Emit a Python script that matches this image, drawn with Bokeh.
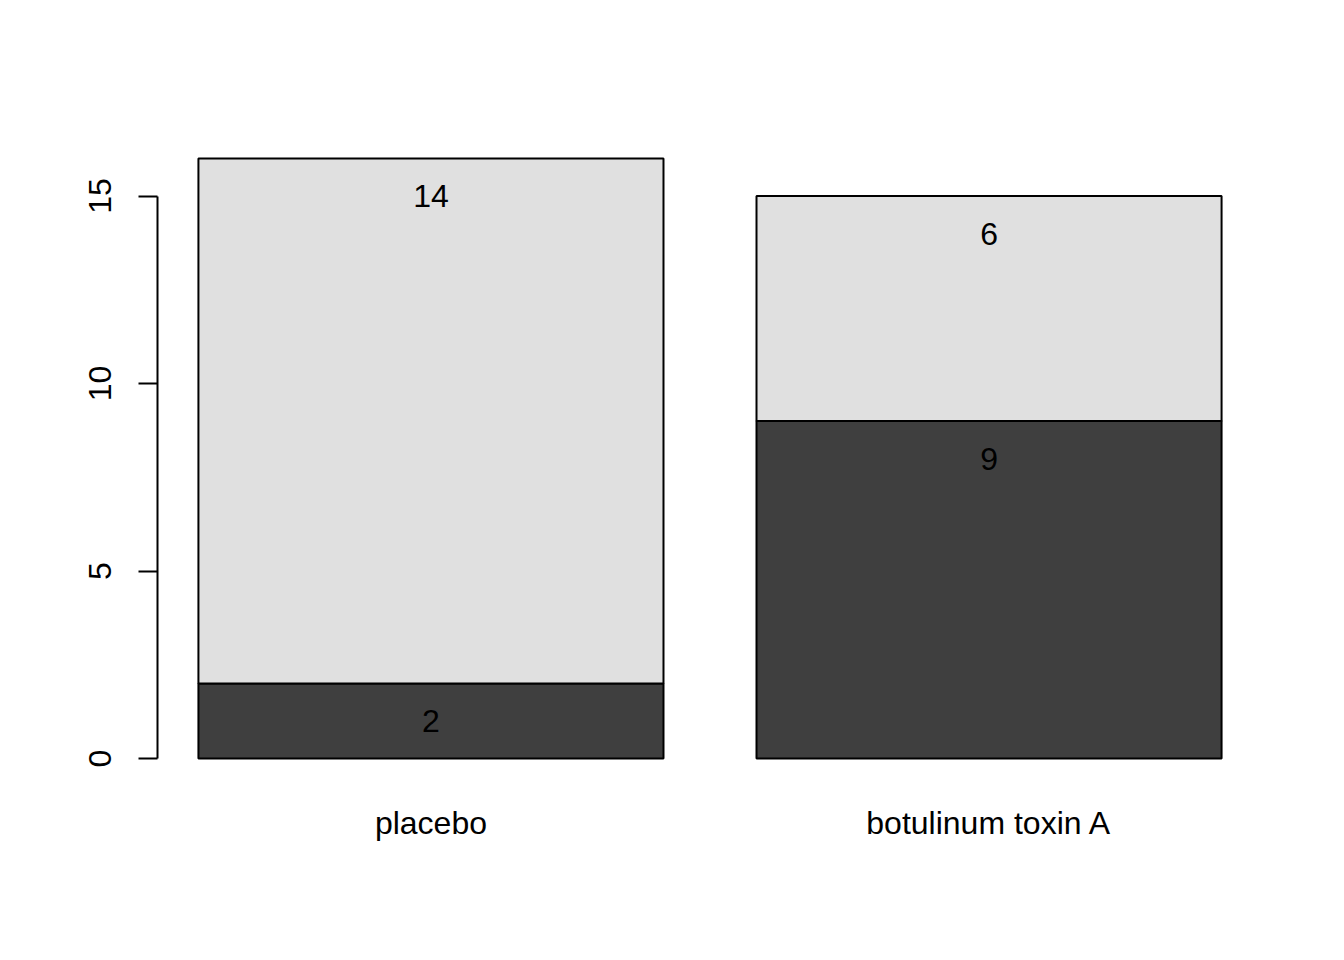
import math
from bokeh.plotting import figure
from bokeh.models import Range1d, FixedTicker, ColumnDataSource, LinearAxis
from bokeh.embed import file_html
from bokeh.resources import INLINE
from bokeh.core.properties import value

# ---- data ----
categories = ["placebo", "botulinum toxin A"]
lower_counts = [2, 9]      # dark segment
upper_counts = [14, 6]     # light segment
y_ticks = [0, 5, 10, 15]

dark_color = "#3F3F3F"
light_color = "#E0E0E0"
FONT = "Liberation Sans"
FS = "32px"

# R barplot geometry: width 1, space 0.2
space, bw = 0.2, 1.0
lefts = [space + i * (bw + space) for i in range(len(categories))]
rights = [l + bw for l in lefts]
centers = [(l + r) / 2 for l, r in zip(lefts, rights)]
tops = [a + b for a, b in zip(lower_counts, upper_counts)]

x0, x1 = min(lefts), max(rights)
xpad = 0.04 * (x1 - x0)
y0, y1 = 0, max(tops)
ypad = 0.04 * (y1 - y0)
xstart = x0 - xpad

p = figure(width=1344, height=960, output_backend="svg", toolbar_location=None,
           x_range=Range1d(xstart, x1 + xpad), y_range=Range1d(y0 - ypad, y1 + ypad),
           x_axis_location=None, y_axis_location=None,
           min_border_left=157, min_border_right=82, min_border_top=134, min_border_bottom=178)
p.outline_line_color = None
p.xgrid.visible = False
p.ygrid.visible = False
p.background_fill_color = "white"
p.border_fill_color = "white"

src = ColumnDataSource(dict(left=lefts, right=rights, center=centers,
                            lower=lower_counts, upper=upper_counts, top=tops,
                            zero=[0] * len(categories)))
p.quad(left="left", right="right", bottom="zero", top="lower", source=src,
       fill_color=dark_color, line_color="black", line_width=2)
p.quad(left="left", right="right", bottom="lower", top="top", source=src,
       fill_color=light_color, line_color="black", line_width=2)

# segment labels (placed one unit below each segment top)
lab_x = centers + centers
lab_y = [v - 1 for v in lower_counts] + [v - 1 for v in tops]
lab_t = [str(v) for v in lower_counts] + [str(v) for v in upper_counts]
p.text(x=lab_x, y=lab_y, text=lab_t, text_font=value(FONT), text_font_size=FS,
       text_align="center", text_baseline="middle", text_color="black")

# y axis
yax = LinearAxis(ticker=FixedTicker(ticks=y_ticks), bounds=(min(y_ticks), max(y_ticks)))
yax.axis_line_width = 2
yax.major_tick_line_width = 2
yax.major_tick_out = 19
yax.major_tick_in = 0
yax.minor_tick_line_color = None
yax.major_label_orientation = "parallel"
yax.major_label_standoff = 28
yax.major_label_text_font = FONT
yax.major_label_text_font_size = FS
yax.major_label_text_color = "black"
p.add_layout(yax, "left")

# x axis (labels only)
xax = LinearAxis(ticker=FixedTicker(ticks=centers),
                 major_label_overrides={c: n for c, n in zip(centers, categories)})
xax.axis_line_color = None
xax.major_tick_line_color = None
xax.minor_tick_line_color = None
xax.major_label_standoff = 16
xax.major_label_text_font = FONT
xax.major_label_text_font_size = FS
xax.major_label_text_color = "black"
p.add_layout(xax, "below")

open("out.html", "w").write(file_html(p, INLINE))
